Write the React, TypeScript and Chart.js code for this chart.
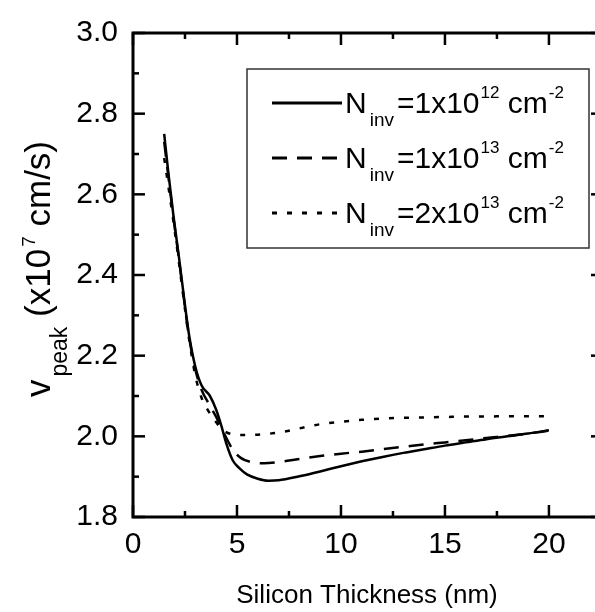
import React, { useEffect, useRef } from "react";
import { Chart, registerables } from "chart.js";

Chart.register(...registerables);

const FONT = "'Liberation Sans', Arial, Helvetica, sans-serif";

// Silicon thickness (nm) and peak velocity (x10^7 cm/s)
const THICKNESS_1E12 = [1.5, 1.7, 1.95, 2.2, 2.45, 2.7, 3.0, 3.3, 3.7, 4.0, 4.25, 4.5, 4.8, 5.1, 5.5, 6.0, 6.5, 7.0, 8.0, 9.0, 10, 11, 12, 13, 14, 15, 16, 17, 18, 19, 20];
const VPEAK_1E12 = [2.75, 2.653, 2.545, 2.448, 2.345, 2.25, 2.172, 2.126, 2.1, 2.066, 2.026, 1.98, 1.94, 1.922, 1.905, 1.895, 1.89, 1.891, 1.901, 1.913, 1.926, 1.938, 1.949, 1.959, 1.968, 1.977, 1.985, 1.993, 2.0, 2.007, 2.015];

const THICKNESS_1E13 = [1.5, 1.7, 1.95, 2.2, 2.45, 2.7, 3.0, 3.3, 3.6, 4.0, 4.4, 4.8, 5.2, 5.7, 6.3, 7.0, 8.0, 9.0, 10, 11, 12, 13, 14, 15, 16, 17, 18, 19, 20];
const VPEAK_1E13 = [2.73, 2.645, 2.54, 2.443, 2.34, 2.245, 2.165, 2.115, 2.085, 2.048, 2.005, 1.967, 1.946, 1.936, 1.933, 1.936, 1.944, 1.951, 1.957, 1.962, 1.968, 1.974, 1.98, 1.985, 1.99, 1.996, 2.001, 2.007, 2.014];

const THICKNESS_2E13 = [1.5, 1.7, 1.95, 2.2, 2.45, 2.7, 3.0, 3.3, 3.6, 3.9, 4.2, 4.5, 4.8, 5.3, 6.0, 6.8, 7.5, 8.3, 9.0, 10, 11, 12, 13, 14, 15, 16, 17, 18, 19, 20];
const VPEAK_2E13 = [2.69, 2.62, 2.53, 2.435, 2.335, 2.24, 2.15, 2.095, 2.065, 2.042, 2.022, 2.01, 2.005, 2.003, 2.004, 2.008, 2.014, 2.023, 2.03, 2.036, 2.041, 2.044, 2.046, 2.047, 2.048, 2.049, 2.049, 2.05, 2.05, 2.05];

const LEGEND_MANTISSA = ["1", "1", "2"];
const LEGEND_EXPONENT = ["12", "13", "13"];
const DASHES: number[][] = [[], [15, 10], [5, 10]];

const X_TICKS = [0, 5, 10, 15, 20];
const X_MINOR = [2.5, 7.5, 12.5, 17.5, 22.5];
const Y_TICKS = [1.8, 2.0, 2.2, 2.4, 2.6, 2.8, 3.0];
const Y_TICK_LABELS = ["1.8", "2.0", "2.2", "2.4", "2.6", "2.8", "3.0"];
const Y_MINOR = [1.9, 2.1, 2.3, 2.5, 2.7, 2.9];

const X_TITLE = "Silicon Thickness (nm)";

type Part = { t: string; s: number; dy?: number; dx?: number };

function drawParts(ctx: CanvasRenderingContext2D, x: number, y: number, parts: Part[]) {
  let cx = x;
  for (const p of parts) {
    cx += p.dx || 0;
    ctx.font = `${p.s}px ${FONT}`;
    ctx.fillText(p.t, cx, y + (p.dy || 0));
    cx += ctx.measureText(p.t).width;
  }
}

const framePlugin = {
  id: "frame",
  afterDraw(chart: any) {
    const ctx: CanvasRenderingContext2D = chart.ctx;
    const { left, right, top, bottom } = chart.chartArea;
    const xs = chart.scales.x;
    const ys = chart.scales.y;
    ctx.save();
    ctx.strokeStyle = "#000";
    ctx.fillStyle = "#000";
    ctx.setLineDash([]);
    // frame
    ctx.lineWidth = 3;
    ctx.strokeRect(left, top, right - left, bottom - top);
    // ticks
    ctx.lineWidth = 2.5;
    const tick = (x1: number, y1: number, x2: number, y2: number) => {
      ctx.beginPath();
      ctx.moveTo(x1, y1);
      ctx.lineTo(x2, y2);
      ctx.stroke();
    };
    const MAJ = 12, MIN = 6;
    X_TICKS.forEach((v) => {
      const px = xs.getPixelForValue(v);
      tick(px, bottom, px, bottom - MAJ);
      tick(px, top, px, top + MAJ);
    });
    X_MINOR.forEach((v) => {
      const px = xs.getPixelForValue(v);
      tick(px, bottom, px, bottom - MIN);
      tick(px, top, px, top + MIN);
    });
    Y_TICKS.forEach((v) => {
      const py = ys.getPixelForValue(v);
      tick(left, py, left + MAJ, py);
      tick(right, py, right - MAJ, py);
    });
    Y_MINOR.forEach((v) => {
      const py = ys.getPixelForValue(v);
      tick(left, py, left + MIN, py);
      tick(right, py, right - MIN, py);
    });

    // legend box
    ctx.lineWidth = 1.5;
    ctx.strokeStyle = "#333";
    ctx.strokeRect(247, 69, 342, 179);
    ctx.strokeStyle = "#000";
    const rowsBase = [113, 168, 223];
    ctx.textAlign = "left";
    ctx.textBaseline = "alphabetic";
    rowsBase.forEach((b, i) => {
      ctx.lineWidth = 2.8;
      ctx.setLineDash(DASHES[i]);
      ctx.beginPath();
      ctx.moveTo(272, b - 10);
      ctx.lineTo(342, b - 10);
      ctx.stroke();
      ctx.setLineDash([]);
      drawParts(ctx, 345, b, [
        { t: "N", s: 30 },
        { t: "inv", s: 19, dy: 13, dx: 3 },
        { t: "=" + LEGEND_MANTISSA[i] + "x10", s: 30, dx: 3 },
        { t: LEGEND_EXPONENT[i], s: 17, dy: -15, dx: 1 },
        { t: " cm", s: 30 },
        { t: "-2", s: 17, dy: -15, dx: 1 },
      ]);
    });

    // x title
    ctx.font = `26px ${FONT}`;
    ctx.textAlign = "center";
    ctx.fillText(X_TITLE, 367, 603);

    // y title
    ctx.save();
    ctx.translate(50, 397);
    ctx.rotate(-Math.PI / 2);
    ctx.textAlign = "left";
    drawParts(ctx, 0, 0, [
      { t: "v", s: 35 },
      { t: "peak", s: 23, dy: 17, dx: 3 },
      { t: " (x10", s: 35 },
      { t: "7", s: 19, dy: -15, dx: 2 },
      { t: " cm/s)", s: 35 },
    ]);
    ctx.restore();
    ctx.restore();
  },
};

export default function App() {
  const ref = useRef<HTMLCanvasElement>(null);
  useEffect(() => {
    const mk = (xs: number[], ys: number[], i: number) => ({
      label: LEGEND_MANTISSA[i] + "x10^" + LEGEND_EXPONENT[i],
      data: xs.map((x, k) => ({ x, y: ys[k] })),
      borderColor: "#000",
      borderWidth: 2.5,
      borderDash: DASHES[i],
      pointRadius: 0,
      fill: false,
      cubicInterpolationMode: "monotone" as const,
    });
    const chart = new Chart(ref.current!, {
      type: "line",
      data: {
        datasets: [
          mk(THICKNESS_1E12, VPEAK_1E12, 0),
          mk(THICKNESS_1E13, VPEAK_1E13, 1),
          mk(THICKNESS_2E13, VPEAK_2E13, 2),
        ],
      },
      options: {
        responsive: false,
        animation: false,
        devicePixelRatio: 1,
        layout: { padding: { left: 0, top: 24, right: 17, bottom: 0 } },
        plugins: { legend: { display: false }, tooltip: { enabled: false } },
        scales: {
          x: {
            type: "linear",
            min: 0,
            max: 22.6,
            grid: { display: false, drawTicks: false },
            border: { display: false },
            afterBuildTicks: (s: any) => {
              s.ticks = X_TICKS.map((v) => ({ value: v }));
            },
            afterFit: (s: any) => {
              s.height = 95;
            },
            ticks: {
              padding: 10,
              color: "#000",
              maxRotation: 0,
              autoSkip: false,
              font: { family: FONT, size: 30 },
              callback: (v: any) => String(v),
            },
          },
          y: {
            type: "linear",
            min: 1.8,
            max: 3.0,
            grid: { display: false, drawTicks: false },
            border: { display: false },
            afterBuildTicks: (s: any) => {
              s.ticks = Y_TICKS.map((v) => ({ value: v }));
            },
            afterFit: (s: any) => {
              s.width = 133;
            },
            ticks: {
              padding: 15,
              color: "#000",
              autoSkip: false,
              font: { family: FONT, size: 30 },
              callback: (_v: any, i: number) => Y_TICK_LABELS[i],
            },
          },
        },
      },
      plugins: [framePlugin],
    });
    return () => chart.destroy();
  }, []);
  return (
    <div style={{ position: "absolute", left: 0, top: 0, width: 595, height: 612, overflow: "hidden", background: "#fff" }}>
      <canvas ref={ref} width={620} height={612} style={{ display: "block" }} />
    </div>
  );
}
